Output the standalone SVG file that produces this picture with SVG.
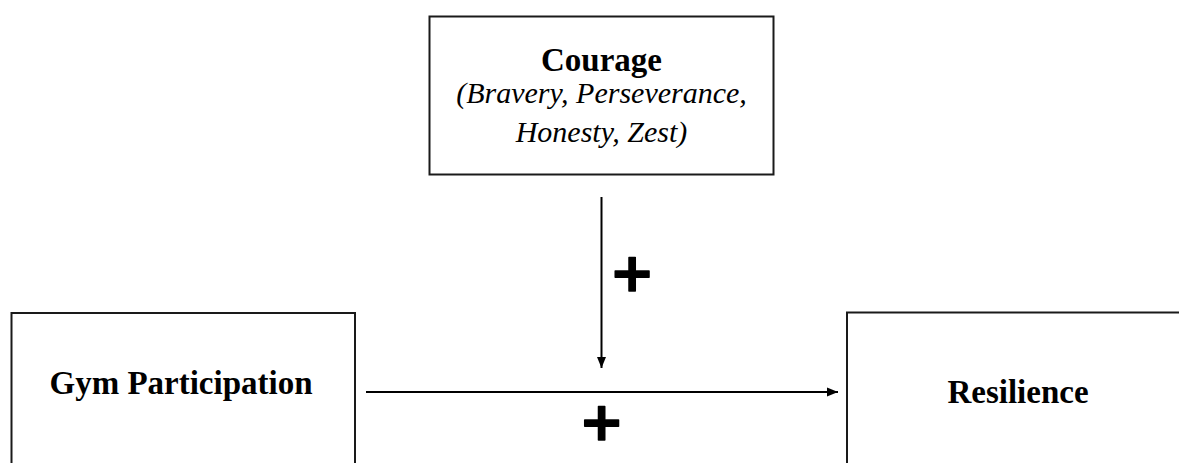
<svg xmlns="http://www.w3.org/2000/svg" width="1179" height="463" viewBox="0 0 1179 463">
<style>
.box{fill:#fff;stroke:#1a1a1a;stroke-width:2}
.t{font-family:"Times New Roman","Liberation Serif",Times,serif;font-weight:bold;font-size:33px;fill:#000;text-anchor:middle}
.i{font-family:"Times New Roman","Liberation Serif",Times,serif;font-style:italic;font-size:30px;fill:#000;text-anchor:middle}
.plus{font-family:"DejaVu Sans",sans-serif;font-weight:bold;font-size:54px;fill:#000;stroke:#000;stroke-width:1.5;stroke-linejoin:round;text-anchor:middle}
.c{stroke:#000;stroke-width:2;fill:none}
</style>
<defs>
<marker id="ah" markerUnits="userSpaceOnUse" markerWidth="12" markerHeight="10" refX="11" refY="5" orient="auto">
<path d="M0,0.5 L11,5 L0,9.5 z" fill="#000"/>
</marker>
</defs>
<g id="courage">
<rect class="box" x="429.5" y="16.5" width="344" height="158"/>
<text class="t" x="601.5" y="71">Courage</text>
<text class="i" x="601.5" y="103">(Bravery, Perseverance,</text>
<text class="i" x="601.5" y="142">Honesty, Zest)</text>
</g>
<g id="gym">
<rect class="box" x="11.5" y="313" width="343.5" height="170"/>
<text class="t" x="181" y="394">Gym Participation</text>
</g>
<g id="resilience">
<rect class="box" x="847" y="312.5" width="360" height="170"/>
<text class="t" x="1018" y="403">Resilience</text>
</g>
<g id="connectors">
<line class="c" x1="366" y1="392" x2="838" y2="392" marker-end="url(#ah)"/>
<line class="c" x1="601.5" y1="197" x2="601.5" y2="368" marker-end="url(#ah)"/>
<text class="plus" x="632" y="291">+</text>
<text class="plus" x="601.5" y="440">+</text>
</g>
</svg>
